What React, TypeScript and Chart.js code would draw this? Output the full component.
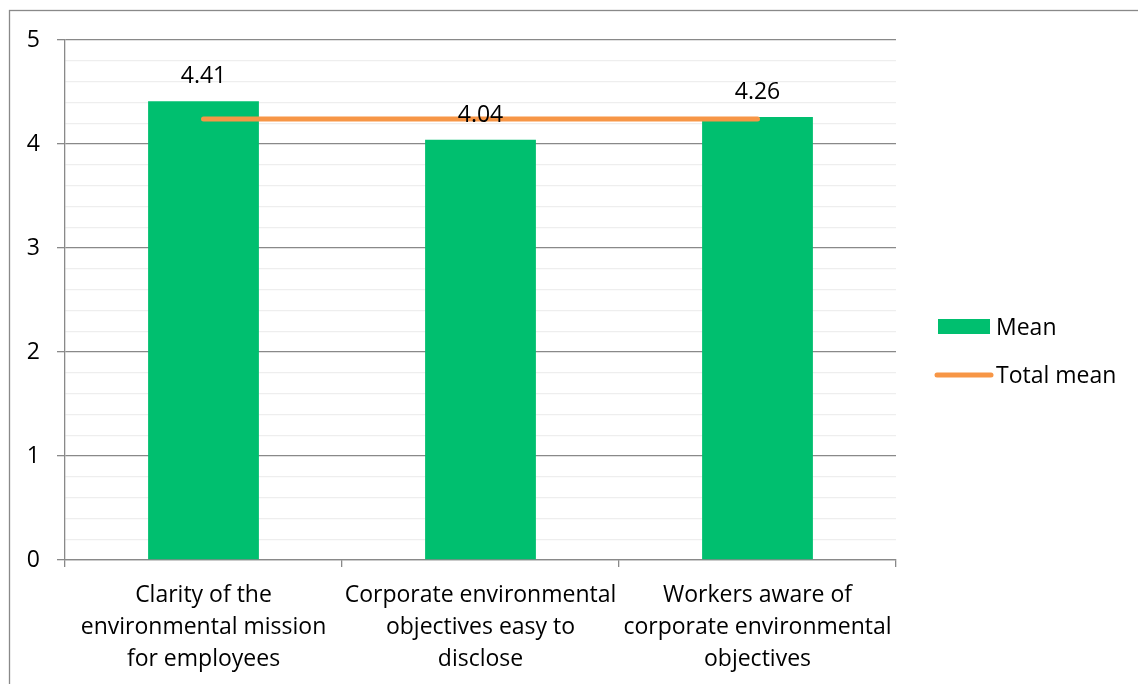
import React, { useEffect, useRef } from "react";
import { Chart, registerables } from "chart.js";

Chart.register(...registerables);

// Category labels, one array of lines per category
const categories: string[][] = [
  ["Clarity of the", "environmental mission", "for employees"],
  ["Corporate environmental", "objectives easy to", "disclose"],
  ["Workers aware of", "corporate environmental", "objectives"],
];

// Mean score per item
const meanValues = [4.41, 4.04, 4.26];

// Overall mean across the three items
const totalMeanValues = [4.24, 4.24, 4.24];

// Axis range and gridline step
const yMin = 0;
const yMax = 5;
const yMinorStep = 0.2;

const FONT = "'Open Sans', 'Liberation Sans', sans-serif";
const FONT_SIZE = 23;
const BAR_COLOR = "#00BF6F";
const LINE_COLOR = "#F79646";
const AXIS_GRAY = "#898989";
const MINOR_GRAY = "#eeeeee";

const isMajor = (v: number) => Math.abs(v - Math.round(v)) < 1e-6;

const framePlugin = {
  id: "outerFrame",
  beforeDraw(chart: any) {
    const { ctx } = chart;
    ctx.save();
    ctx.strokeStyle = AXIS_GRAY;
    ctx.lineWidth = 1.3;
    ctx.strokeRect(9.5, 10.5, 3000, 3000);
    ctx.restore();
  },
};

const valueLabelPlugin = {
  id: "valueLabels",
  afterDatasetsDraw(chart: any) {
    const { ctx } = chart;
    chart.data.datasets.forEach((ds: any, i: number) => {
      if (ds.type !== "bar") return;
      const meta = chart.getDatasetMeta(i);
      ctx.save();
      ctx.font = `${FONT_SIZE}px ${FONT}`;
      ctx.fillStyle = "#000";
      ctx.textAlign = "center";
      ctx.textBaseline = "alphabetic";
      meta.data.forEach((el: any, j: number) => {
        ctx.fillText(Number(ds.data[j]).toFixed(2), el.x, el.y - 18);
      });
      ctx.restore();
    });
  },
};

const legendPlugin = {
  id: "sideLegend",
  afterDraw(chart: any) {
    const { ctx } = chart;
    const left = chart.chartArea.right + 42;
    const textX = left + 58;
    const rows = [327, 375];
    const order = [1, 0];
    ctx.save();
    ctx.font = `${FONT_SIZE}px ${FONT}`;
    ctx.textBaseline = "middle";
    ctx.textAlign = "left";
    order.forEach((dsIndex, r) => {
      const ds = chart.data.datasets[dsIndex];
      const y = rows[r];
      if (ds.type === "bar") {
        ctx.fillStyle = ds.backgroundColor;
        ctx.fillRect(left, y - 8, 52, 15);
      } else {
        ctx.strokeStyle = ds.borderColor;
        ctx.lineWidth = 5;
        ctx.lineCap = "round";
        ctx.beginPath();
        ctx.moveTo(left - 1, y);
        ctx.lineTo(left + 53, y);
        ctx.stroke();
      }
      ctx.fillStyle = "#000";
      ctx.fillText(ds.label, textX, y + 1);
    });
    ctx.restore();
  },
};

export default function App() {
  const canvasRef = useRef<HTMLCanvasElement | null>(null);

  useEffect(() => {
    const canvas = canvasRef.current;
    if (!canvas) return;
    const chart = new Chart(canvas, {
      type: "bar",
      data: {
        labels: categories,
        datasets: [
          {
            type: "line",
            label: "Total mean",
            data: totalMeanValues,
            borderColor: LINE_COLOR,
            backgroundColor: LINE_COLOR,
            borderWidth: 5,
            borderCapStyle: "round",
            pointRadius: 0,
            pointHoverRadius: 0,
            fill: false,
            order: 0,
          } as any,
          {
            type: "bar",
            label: "Mean",
            data: meanValues,
            backgroundColor: BAR_COLOR,
            borderWidth: 0,
            barPercentage: 1,
            categoryPercentage: 0.4,
            order: 1,
          } as any,
        ],
      },
      options: {
        responsive: false,
        animation: false,
        devicePixelRatio: 1,
        layout: { padding: { top: 40, right: 242, left: 0, bottom: 0 } },
        plugins: {
          legend: { display: false },
          tooltip: { enabled: false },
        },
        scales: {
          x: {
            afterFit(scale: any) {
              scale.height = 124;
            },
            grid: {
              offset: true,
              drawOnChartArea: false,
              drawTicks: true,
              tickLength: 7,
              color: AXIS_GRAY,
              tickColor: AXIS_GRAY,
              lineWidth: 1.3,
            },
            border: { display: true, color: AXIS_GRAY, width: 1.3 },
            ticks: {
              color: "#000",
              padding: 12,
              maxRotation: 0,
              autoSkip: false,
              font: { family: FONT, size: FONT_SIZE, lineHeight: 32 / FONT_SIZE },
            },
          },
          y: {
            min: yMin,
            max: yMax,
            afterFit(scale: any) {
              scale.width = 65;
            },
            grid: {
              drawTicks: true,
              tickLength: 8,
              color: (c: any) => (isMajor(c.tick.value) ? AXIS_GRAY : MINOR_GRAY),
              tickColor: (c: any) => (isMajor(c.tick.value) ? AXIS_GRAY : "rgba(0,0,0,0)"),
              lineWidth: 1.3,
            },
            border: { display: true, color: AXIS_GRAY, width: 1.3 },
            ticks: {
              stepSize: yMinorStep,
              autoSkip: false,
              color: "#000",
              padding: 17,
              font: { family: FONT, size: FONT_SIZE },
              callback: (v: any) => (isMajor(Number(v)) ? String(Math.round(Number(v))) : ""),
            },
          },
        },
      },
      plugins: [framePlugin, valueLabelPlugin, legendPlugin],
    });
    return () => chart.destroy();
  }, []);

  return (
    <div style={{ position: "absolute", left: 0, top: 0, width: 1138, height: 684, background: "#fff" }}>
      <canvas ref={canvasRef} width={1138} height={684} style={{ display: "block" }} />
    </div>
  );
}
